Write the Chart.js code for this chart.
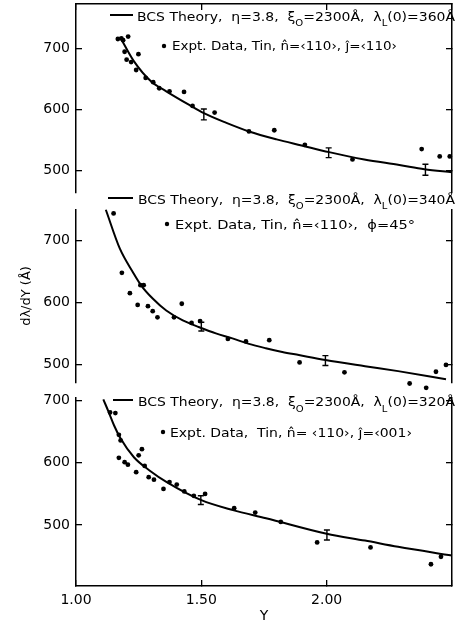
<!DOCTYPE html>
<html lang="en">
<head>
<meta charset="UTF-8">
<title>dλ/dY vs Y, tin, three orientations</title>
<script src="https://cdn.jsdelivr.net/npm/chart.js"></script>
<style>
  html, body { margin: 0; padding: 0; background: #fff; overflow: hidden; }
</style>
</head>
<body>
<canvas id="chart" width="456" height="625"></canvas>
<script>
// ---- panel 1 (top): n=<110>, j=<110>, lambda_L(0)=360 A
const topX = [1.167, 1.181, 1.188, 1.208, 1.194, 1.202, 1.220, 1.249, 1.240, 1.278, 1.308, 1.332,
              1.373, 1.431, 1.465, 1.553, 1.690, 1.791, 1.913, 2.103, 2.379, 2.451, 2.491];
const topY = [716, 717, 714, 720, 695, 682, 678, 691, 665, 652, 645, 635,
              630, 629, 606, 595, 564, 566, 542, 518, 535, 523, 523];
const topCurveX = [1.18, 1.23, 1.30, 1.36, 1.45, 1.51, 1.60, 1.69, 1.80, 1.90, 2.01, 2.15, 2.29, 2.39, 2.50];
const topCurveY = [716, 680, 646, 630, 608, 594, 578, 564, 551, 541, 530, 518, 509, 502, 497];
const topErr = [[1.51, 592, 9], [2.008, 529, 8], [2.394, 501, 9]];

// ---- panel 2 (middle): n=<110>, phi=45deg, lambda_L(0)=340 A
const midX = [1.150, 1.183, 1.215, 1.246, 1.257, 1.270, 1.287, 1.306, 1.325, 1.391, 1.422,
              1.461, 1.495, 1.606, 1.678, 1.771, 1.892, 2.071, 2.331, 2.397, 2.436, 2.476];
const midY = [744, 648, 615, 596, 628, 628, 594, 586, 576, 576, 598,
              567, 570, 541, 537, 539, 503, 487, 469, 462, 488, 499];
const midCurveX = [1.119, 1.175, 1.227, 1.261, 1.307, 1.360, 1.426, 1.492, 1.558, 1.624, 1.690,
                   1.757, 1.823, 1.889, 1.995, 2.153, 2.285, 2.476];
const midCurveY = [750, 687, 649, 627, 606, 587, 571, 560, 550, 542, 533,
                   526, 520, 515, 507, 497, 489, 476];
const midErr = [[1.50, 561, 7], [1.995, 506, 8]];

// ---- panel 3 (bottom): n=<110>, j=<001>, lambda_L(0)=320 A
const botX = [1.136, 1.157, 1.171, 1.178, 1.171, 1.194, 1.207, 1.240, 1.250, 1.263, 1.274, 1.290, 1.311,
              1.349, 1.373, 1.402, 1.432, 1.470, 1.515, 1.631, 1.715, 1.817, 1.962, 2.175, 2.416, 2.456];
const botY = [681, 680, 645, 636, 608, 601, 597, 585, 612, 622, 595, 577, 573,
              558, 569, 565, 554, 547, 550, 527, 520, 505, 472, 464, 437, 449];
const botCurveX = [1.109, 1.13, 1.152, 1.178, 1.231, 1.296, 1.362, 1.50, 1.626, 1.758, 2.0, 2.153, 2.285, 2.50];
const botCurveY = [702, 682, 660, 639, 609, 587, 569, 540, 524, 511, 486, 475, 465, 451];
const botErr = [[1.498, 540, 7], [2.001, 484, 8]];

// axis ranges (each panel has its own broken y axis)
const xRange = [1.0, 2.5];
const xTicks = [1.0, 1.5, 2.0, 2.5];
const topRange = [463.7, 773.5];
const midRange = [471, 750];
const botRange = [402, 705];
const yTicks = [500, 600, 700];

const pts = (xs, ys) => xs.map((x, i) => ({ x: x, y: ys[i] }));

function pointSet(xs, ys, axis) {
  return {
    data: pts(xs, ys), yAxisID: axis, showLine: false,
    pointRadius: 2.4, pointBackgroundColor: '#000', pointBorderWidth: 0, clip: false
  };
}
function curveSet(xs, ys, axis) {
  return {
    data: pts(xs, ys), yAxisID: axis, showLine: true, borderColor: '#000', borderWidth: 2,
    pointRadius: 0, cubicInterpolationMode: 'monotone', clip: false
  };
}

const black = '#000';
const tickFont = { family: 'DejaVu Sans', size: 14 };

// fixed tick list and no extra label padding around the chart area
const setTicks = list => s => { s.ticks = list.map(v => ({ value: v })); };
const fixSize = (w, h) => s => {
  if (w !== null) s.width = w;
  if (h !== null) s.height = h;
  s.paddingTop = s.paddingBottom = s.paddingLeft = s.paddingRight = 0;
};

// left y axis of a panel, inward ticks
function leftAxis(range, weight, stackWeight, extra) {
  return Object.assign({
    type: 'linear', position: 'left', stack: 'L', weight: weight, stackWeight: stackWeight,
    min: range[0], max: range[1],
    afterBuildTicks: setTicks(yTicks),
    ticks: { color: black, font: tickFont, padding: 12 },
    grid: { drawOnChartArea: false, tickLength: -6, color: black, lineWidth: 1.3 },
    border: { color: black, width: 1.5 },
    afterFit: fixSize(57, null)
  }, extra || {});
}
function rightAxis(range, weight, stackWeight) {
  return {
    type: 'linear', position: 'right', stack: 'R', weight: weight, stackWeight: stackWeight,
    min: range[0], max: range[1],
    afterBuildTicks: setTicks(yTicks),
    ticks: { display: false },
    grid: { drawOnChartArea: false, tickLength: -6, color: black, lineWidth: 1.3 },
    border: { color: black, width: 1.5 },
    afterFit: fixSize(0, null)
  };
}
// empty axis used only to leave the break between two panels
function gapAxis(pos, stack, weight, stackWeight) {
  return {
    type: 'linear', position: pos, stack: stack, weight: weight, stackWeight: stackWeight,
    min: 0, max: 1, display: true,
    ticks: { display: false }, grid: { display: false }, border: { display: false },
    afterFit: fixSize(0, null)
  };
}

// error bars, drawn through the chart scales
const errorBars = {
  id: 'errorBars',
  afterDatasetsDraw(chart) {
    const ctx = chart.ctx, xs = chart.scales.x;
    const groups = [[topErr, 'yA'], [midErr, 'yB'], [botErr, 'yC']];
    ctx.save();
    ctx.strokeStyle = black;
    ctx.lineWidth = 1.4;
    groups.forEach(([list, id]) => {
      const ys = chart.scales[id];
      list.forEach(([x, y, d]) => {
        const px = xs.getPixelForValue(x);
        const p1 = ys.getPixelForValue(y + d), p2 = ys.getPixelForValue(y - d);
        ctx.beginPath();
        ctx.moveTo(px, p1); ctx.lineTo(px, p2);
        ctx.moveTo(px - 3, p1); ctx.lineTo(px + 3, p1);
        ctx.moveTo(px - 3, p2); ctx.lineTo(px + 3, p2);
        ctx.stroke();
      });
    });
    ctx.restore();
  }
};

// key text in each panel (with sub-scripts)
function drawRuns(ctx, runs, x, y, size, targetW) {
  const subSize = size * 0.72;
  let total = 0;
  runs.forEach(([t, sub]) => {
    ctx.font = (sub ? subSize : size) + 'px "DejaVu Sans"';
    total += ctx.measureText(t).width;
  });
  ctx.save();
  ctx.translate(x, y);
  ctx.scale(targetW / total, 1);
  let cx = 0;
  runs.forEach(([t, sub]) => {
    ctx.font = (sub ? subSize : size) + 'px "DejaVu Sans"';
    ctx.fillText(t, cx, sub ? size * 0.45 : 0);
    cx += ctx.measureText(t).width;
  });
  ctx.restore();
}

const keys = [
  { seg: [110, 133, 15], line1: [137, 20.5, 318], lam: '360', bullet: [164, 46], line2: [172, 50, 225],
    text2: 'Expt. Data, Tin, n\u0302=\u2039110\u203A, \u0135=\u2039110\u203A' },
  { seg: [108, 133, 198], line1: [138, 203.5, 317], lam: '340', bullet: [167, 224], line2: [175, 228.5, 240],
    text2: 'Expt. Data, Tin, n\u0302=\u2039110\u203A,  \u03D5=45\u00B0' },
  { seg: [113, 133, 400], line1: [138, 406, 317], lam: '320', bullet: [163, 432], line2: [170, 436.5, 242],
    text2: 'Expt. Data,  Tin, n\u0302= \u2039110\u203A, \u0135=\u2039001\u203A' }
];

const panelKeys = {
  id: 'panelKeys',
  afterDraw(chart) {
    const ctx = chart.ctx;
    ctx.save();
    ctx.fillStyle = black;
    ctx.strokeStyle = black;
    ctx.textBaseline = 'alphabetic';
    keys.forEach(k => {
      ctx.lineWidth = 2;
      ctx.beginPath();
      ctx.moveTo(k.seg[0], k.seg[2]); ctx.lineTo(k.seg[1], k.seg[2]);
      ctx.stroke();
      drawRuns(ctx, [
        ['BCS Theory,  \u03B7=3.8,  \u03BE', false], ['O', true], ['=2300\u00C5,  \u03BB', false],
        ['L', true], ['(0)=' + k.lam + '\u00C5', false]
      ], k.line1[0], k.line1[1], 13, k.line1[2]);
      ctx.beginPath();
      ctx.arc(k.bullet[0], k.bullet[1], 2.2, 0, Math.PI * 2);
      ctx.fill();
      drawRuns(ctx, [[k.text2, false]], k.line2[0], k.line2[1], 12, k.line2[2]);
    });
    ctx.restore();
  }
};

new Chart(document.getElementById('chart'), {
  type: 'scatter',
  data: {
    datasets: [
      curveSet(topCurveX, topCurveY, 'yA'),
      pointSet(topX, topY, 'yA'),
      curveSet(midCurveX, midCurveY, 'yB'),
      pointSet(midX, midY, 'yB'),
      curveSet(botCurveX, botCurveY, 'yC'),
      pointSet(botX, botY, 'yC')
    ]
  },
  options: {
    responsive: false,
    animation: false,
    layout: { padding: { left: 19, right: 2, top: 3, bottom: 0 } },
    plugins: { legend: { display: false }, tooltip: { enabled: false } },
    scales: {
      x: {
        type: 'linear', position: 'bottom', min: xRange[0], max: xRange[1],
        afterBuildTicks: setTicks(xTicks),
        ticks: {
          color: black, font: tickFont, padding: 12,
          callback: v => (v >= xRange[1] ? '' : v.toFixed(2))
        },
        grid: { drawOnChartArea: false, tickLength: -6, color: black, lineWidth: 1.3 },
        border: { color: black, width: 1.5 },
        title: { display: true, text: 'Y', color: black, font: { family: 'DejaVu Sans', size: 14 }, padding: 0 },
        afterFit: fixSize(null, 39)
      },
      x2: {
        type: 'linear', position: 'top', min: xRange[0], max: xRange[1],
        afterBuildTicks: setTicks(xTicks),
        ticks: { display: false },
        grid: { drawOnChartArea: false, tickLength: -6, color: black, lineWidth: 1.3 },
        border: { color: black, width: 1.5 },
        afterFit: fixSize(null, 0)
      },
      yA: leftAxis(topRange, 5, 188.7),
      gL1: gapAxis('left', 'L', 4, 17.3),
      yB: leftAxis(midRange, 3, 172.7, {
        title: { display: true, text: 'd\u03BB/dY (\u00C5)', color: black, font: { family: 'DejaVu Sans', size: 13 }, padding: 0 }
      }),
      gL2: gapAxis('left', 'L', 2, 15.3),
      yC: leftAxis(botRange, 1, 188.7),
      yA2: rightAxis(topRange, 1, 188.7),
      gR1: gapAxis('right', 'R', 2, 17.3),
      yB2: rightAxis(midRange, 3, 172.7),
      gR2: gapAxis('right', 'R', 4, 15.3),
      yC2: rightAxis(botRange, 5, 188.7)
    }
  },
  plugins: [errorBars, panelKeys]
});
</script>
</body>
</html>
